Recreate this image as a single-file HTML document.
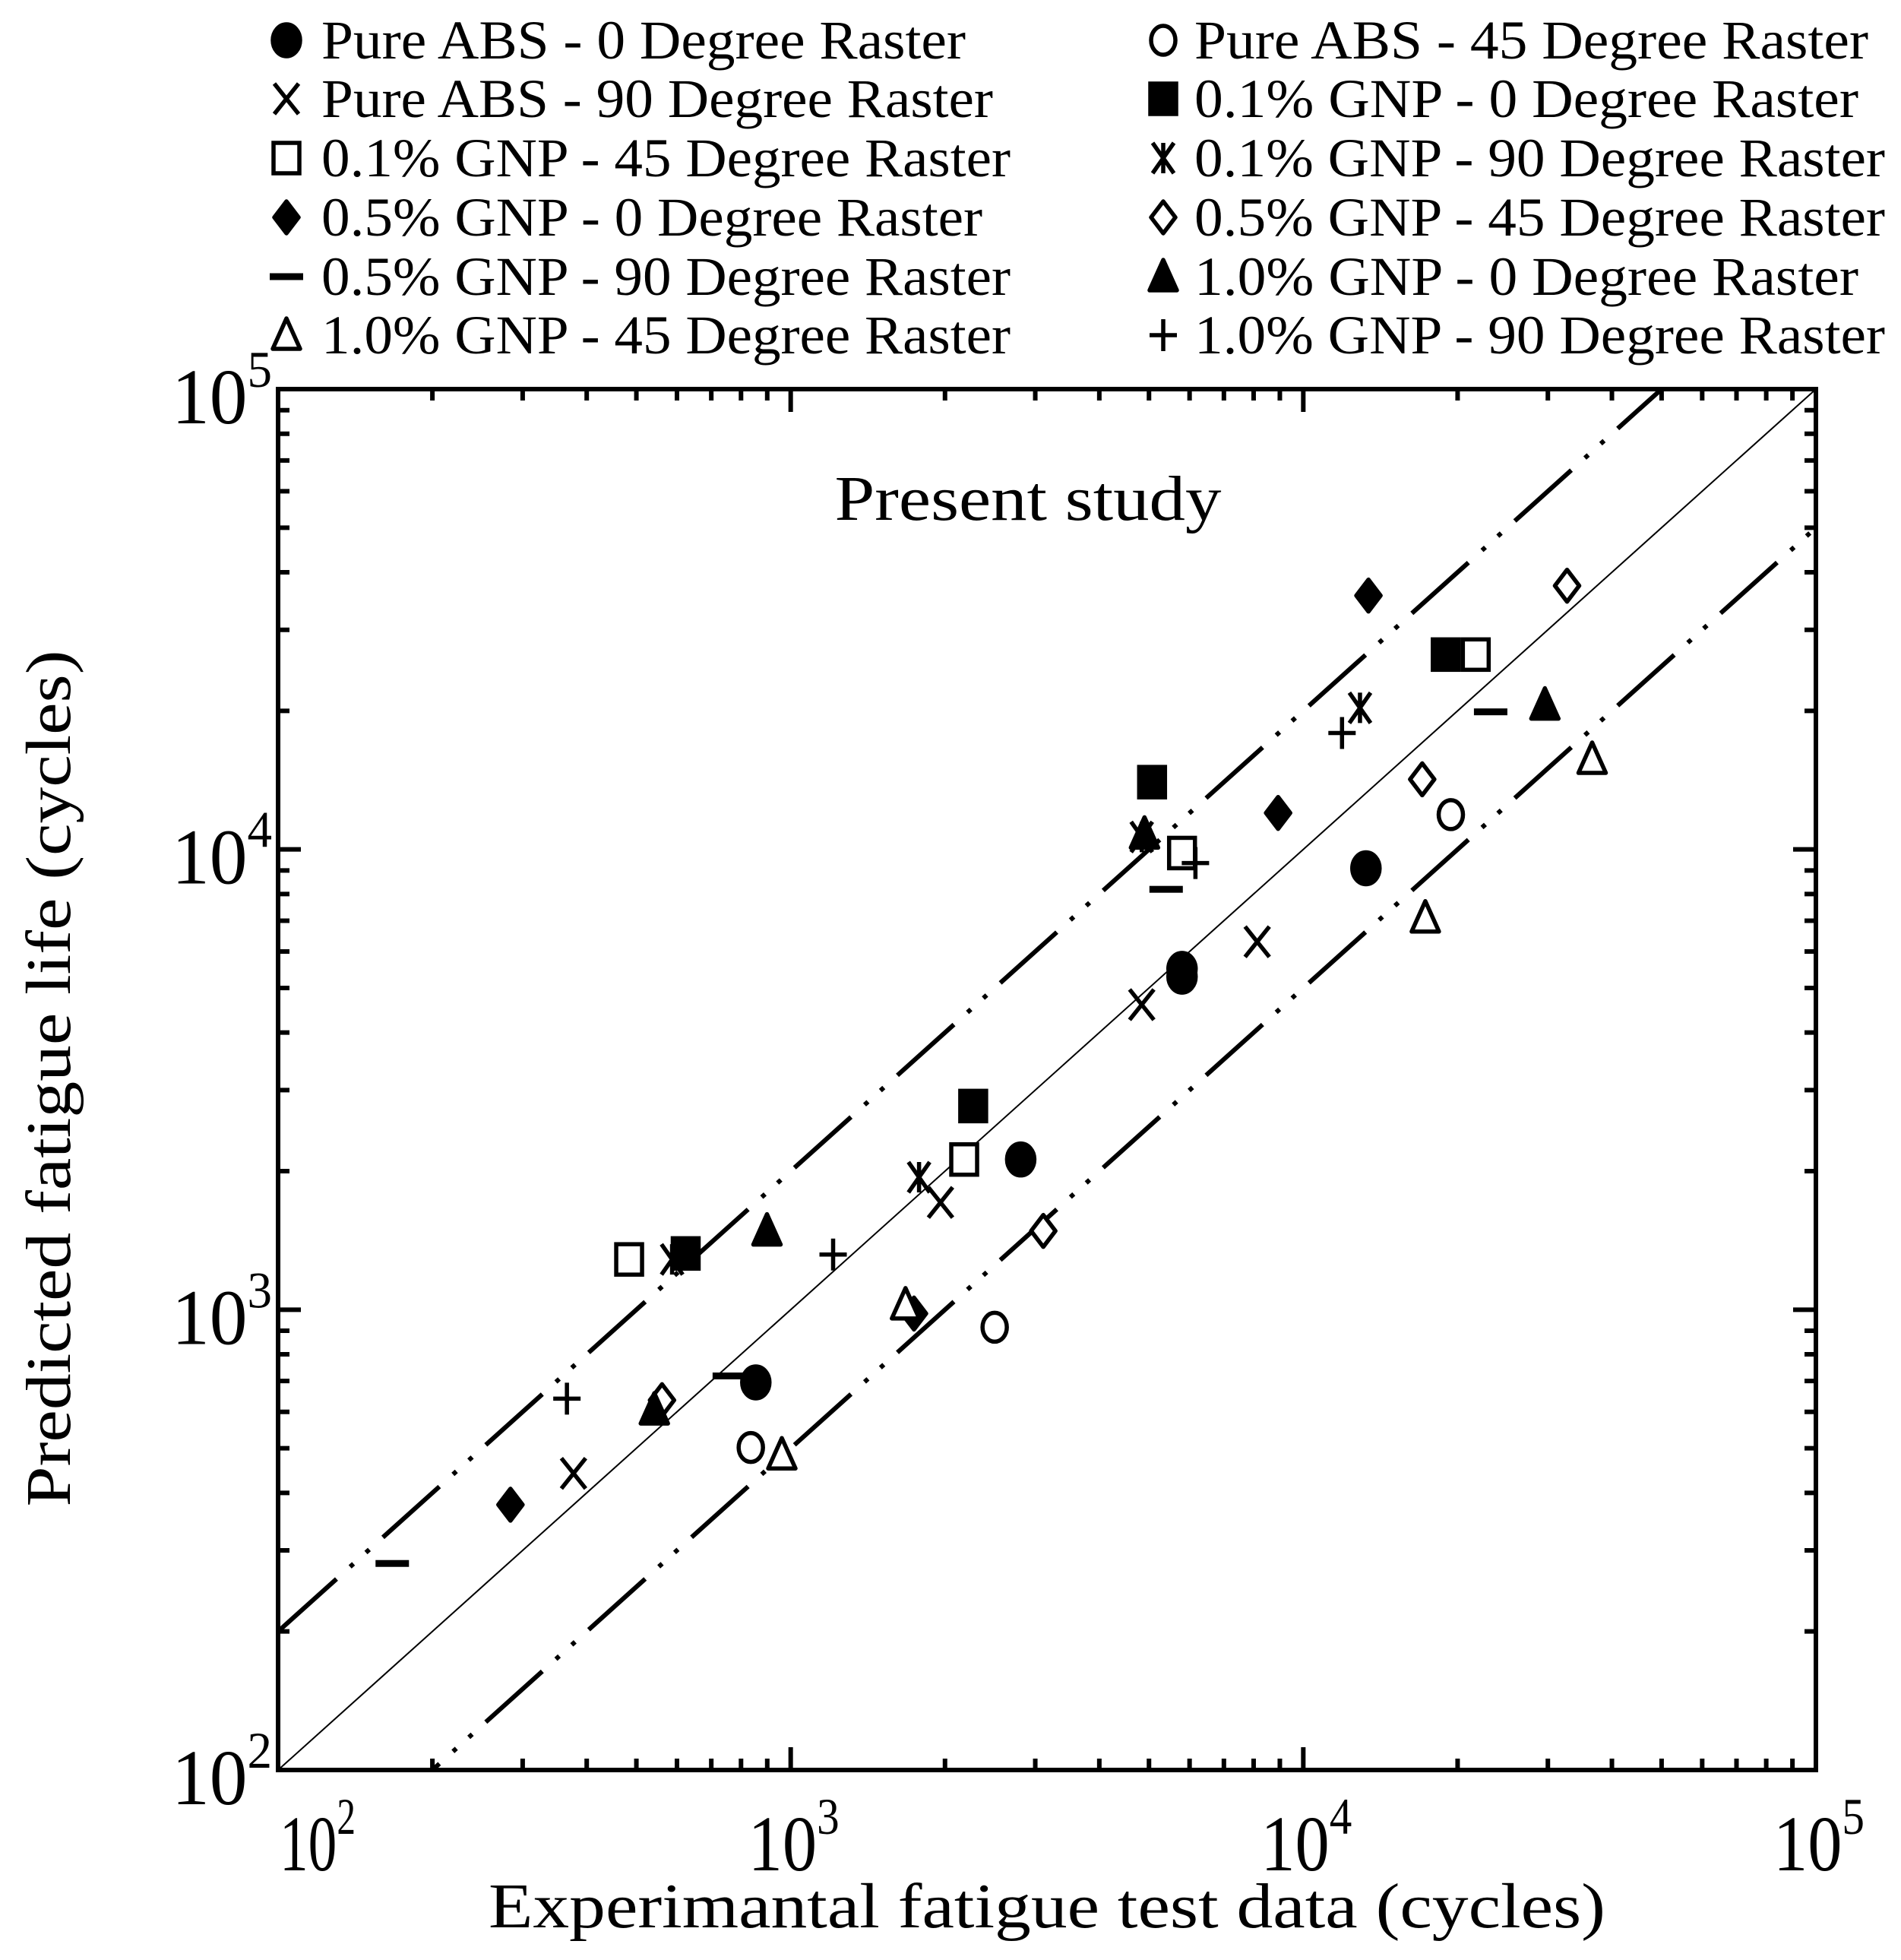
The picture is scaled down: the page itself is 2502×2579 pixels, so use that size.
<!DOCTYPE html>
<html><head><meta charset="utf-8"><style>
html,body{margin:0;padding:0;background:#fff;overflow:hidden}
svg{display:block}
text{font-family:"Liberation Serif","Times New Roman",serif;fill:#000}
</style></head><body>
<svg id="chart" width="2502" height="2579" viewBox="0 0 2502 2579" xmlns="http://www.w3.org/2000/svg">
<g id="legend"></g>
<g id="plot"></g>
</svg>
<script>
const seriesNames = ["Pure ABS - 0 Degree Raster","Pure ABS - 45 Degree Raster","Pure ABS - 90 Degree Raster","0.1% GNP - 0 Degree Raster","0.1% GNP - 45 Degree Raster","0.1% GNP - 90 Degree Raster","0.5% GNP - 0 Degree Raster","0.5% GNP - 45 Degree Raster","0.5% GNP - 90 Degree Raster","1.0% GNP - 0 Degree Raster","1.0% GNP - 45 Degree Raster","1.0% GNP - 90 Degree Raster"];
const seriesMarkers = ["circle-filled","circle-open","x","square-filled","square-open","asterisk","diamond-filled","diamond-open","dash","triangle-filled","triangle-open","plus"];
const expS0=[855,2810,5800,5800,13250], predS0=[695,2120,5290,5500,9100];
const expS1=[836,2500,19400], predS1=[502,916,11900];
const expS2=[377,1960,4840,8130], predS2=[441,1710,4600,6300];
const expS3=[624,2270,5070,18960], predS3=[1325,2770,14000,26500];
const expS4=[484,2180,5800,21700], predS4=[1286,2120,9820,26500];
const expS5=[587,1780,4840,12900], predS5=[1286,1940,10640,20300];
const expS6=[284,1740,8930,13400], predS6=[377,981,12000,35600];
const expS7=[561,3110,17060,32700], predS7=[636,1483,14200,37400];
const expS8=[167,759,5400,23200], predS8=[281,718,8190,19900];
const expS9=[542,899,4900,29600], predS9=[606,1483,10800,20600];
const expS10=[961,1675,17300,36600], predS10=[484,1025,7100,15700];
const expS11=[366,1210,6160,11900], predS11=[641,1318,9340,17900];
const expAll=[expS0,expS1,expS2,expS3,expS4,expS5,expS6,expS7,expS8,expS9,expS10,expS11];
const predAll=[predS0,predS1,predS2,predS3,predS4,predS5,predS6,predS7,predS8,predS9,predS10,predS11];
const tickExponents=[2,3,4,5];
const bandFactors=[2,0.5];

const NS="http://www.w3.org/2000/svg";
const L=366,R=2390,T=512,B=2329;
const xScale=v=>L+(Math.log10(v)-2)/3*(R-L);
const yScale=v=>B-(Math.log10(v)-2)/3*(B-T);
function mk(tag,attrs,parent){const e=document.createElementNS(NS,tag);for(const k in attrs)e.setAttribute(k,attrs[k]);parent.appendChild(e);return e;}
const plot=document.getElementById('plot');
const legend=document.getElementById('legend');

function drawMarker(type,cx,cy,parent,name){
  const g=mk('g',{},parent);
  
  
  const sw=5.5;
  const f=type.endsWith('filled');
  if(type.startsWith('circle')){mk('ellipse',{cx:cx,cy:cy,rx:f?18:16,ry:f?21:19,fill:f?'#000':'#fff',stroke:'#000','stroke-width':sw},g);}
  else if(type.startsWith('square')){mk('rect',{x:cx-17,y:cy-20,width:34,height:40,fill:f?'#000':'#fff',stroke:'#000','stroke-width':sw},g);}
  else if(type.startsWith('diamond')){mk('polygon',{points:`${cx},${cy-21} ${cx+16},${cy} ${cx},${cy+21} ${cx-16},${cy}`,fill:f?'#000':'#fff',stroke:'#000','stroke-width':sw,'stroke-linejoin':'round'},g);}
  else if(type.startsWith('triangle')){mk('polygon',{points:`${cx},${cy-22} ${cx+18},${cy+18} ${cx-18},${cy+18}`,fill:f?'#000':'#fff',stroke:'#000','stroke-width':sw,'stroke-linejoin':'round'},g);}
  else if(type==='x'){mk('path',{d:`M${cx-16},${cy-20}L${cx+16},${cy+20}M${cx+16},${cy-20}L${cx-16},${cy+20}`,stroke:'#000','stroke-width':sw},g);}
  else if(type==='plus'){mk('path',{d:`M${cx-18},${cy}L${cx+18},${cy}M${cx},${cy-21}L${cx},${cy+21}`,stroke:'#000','stroke-width':sw},g);}
  else if(type==='asterisk'){mk('path',{d:`M${cx-14},${cy-20}L${cx+14},${cy+20}M${cx+14},${cy-20}L${cx-14},${cy+20}M${cx},${cy-20}L${cx},${cy+20}`,stroke:'#000','stroke-width':sw},g);}
  else if(type==='dash'){mk('rect',{x:cx-22,y:cy-4.5,width:44,height:9,fill:'#000'},g);}
}

// legend
const rowY=[53,130,208,286,364,441];
const legendLen=[848,887,884,874,907,909,870,909,907,874,907,909];
for(let i=0;i<seriesNames.length;i++){
  const col=i%2,row=Math.floor(i/2);
  const mx=col?1531:377, tx=col?1572:423, y=rowY[row];
  const g=mk('g',{},legend);
  
  
  drawMarker(seriesMarkers[i],mx,y,g,'legend-marker');
  const t=mk('text',{x:tx,y:y+24,'font-size':72,textLength:legendLen[i],lengthAdjust:'spacingAndGlyphs'},g);
  
  
  t.textContent=seriesNames[i];
}

// clip
const defs=mk('defs',{},plot);
const cp=mk('clipPath',{id:'clip'},defs);mk('rect',{x:L,y:T,width:R-L,height:B-T},cp);

// 1:1 line
const ref=mk('line',{x1:xScale(100),y1:yScale(100),x2:xScale(100000),y2:yScale(100000),stroke:'#000','stroke-width':2,'clip-path':'url(#clip)'},plot);


// band lines
bandFactors.forEach(f=>{
  const x0=10,x1=1e6;
  const l=mk('line',{x1:xScale(x0),y1:yScale(x0*f),x2:xScale(x1),y2:yScale(x1*f),stroke:'#000','stroke-width':6,'stroke-dasharray':'100 24 6 22 6 24','stroke-linecap':'butt','clip-path':'url(#clip)'},plot);
  
  
});

// data points
for(let s=0;s<expAll.length;s++){
  const g=mk('g',{},plot);
  
  
  expAll[s].forEach((ex,j)=>drawMarker(seriesMarkers[s],xScale(ex),yScale(predAll[s][j]),g,'data-point'));
}

// frame
const fr=mk('rect',{x:L,y:T,width:R-L,height:B-T,fill:'none',stroke:'#000','stroke-width':6},plot);



// ticks
let tp='';
for(let e=2;e<=5;e++){
  for(let m=1;m<=9;m++){
    const v=m*Math.pow(10,e); if(v>1e5)break;
    const len=m===1?30:15;
    const x=xScale(v),y=yScale(v);
    tp+=`M${x},${B}L${x},${B-len}M${x},${T}L${x},${T+len}M${L},${y}L${L+len},${y}M${R},${y}L${R-len},${y}`;
  }
}
const tk=mk('path',{d:tp,stroke:'#000','stroke-width':6},plot);



// tick labels
tickExponents.forEach(e=>{
  const v=Math.pow(10,e);
  const first=e===2;
  const tx=mk('text',{x:first?xScale(v)+2:xScale(v)+4,y:2461,'font-size':104,'text-anchor':first?'start':'middle',textLength:first?100:120,lengthAdjust:'spacingAndGlyphs'},plot);
  
  
  tx.innerHTML='10<tspan dy="-48" font-size="68">'+e+'</tspan>';
  const ty=mk('text',{x:358,y:yScale(v)+45,'font-size':104,'text-anchor':'end',textLength:132,lengthAdjust:'spacingAndGlyphs'},plot);
  
  
  ty.innerHTML='10<tspan dy="-48" font-size="68">'+e+'</tspan>';
});

// titles
const xt=mk('text',{x:1378,y:2536,'font-size':84,'text-anchor':'middle',textLength:1470,lengthAdjust:'spacingAndGlyphs'},plot);


xt.textContent='Experimantal fatigue test data (cycles)';
const yt=mk('text',{x:0,y:0,'font-size':84,'text-anchor':'middle',textLength:1127,lengthAdjust:'spacingAndGlyphs',transform:'translate(92,1419) rotate(-90)'},plot);


yt.textContent='Predicted fatigue life (cycles)';
const pt=mk('text',{x:1353,y:684,'font-size':84,'text-anchor':'middle',textLength:509,lengthAdjust:'spacingAndGlyphs'},plot);


pt.textContent='Present study';
</script>
</body></html>
